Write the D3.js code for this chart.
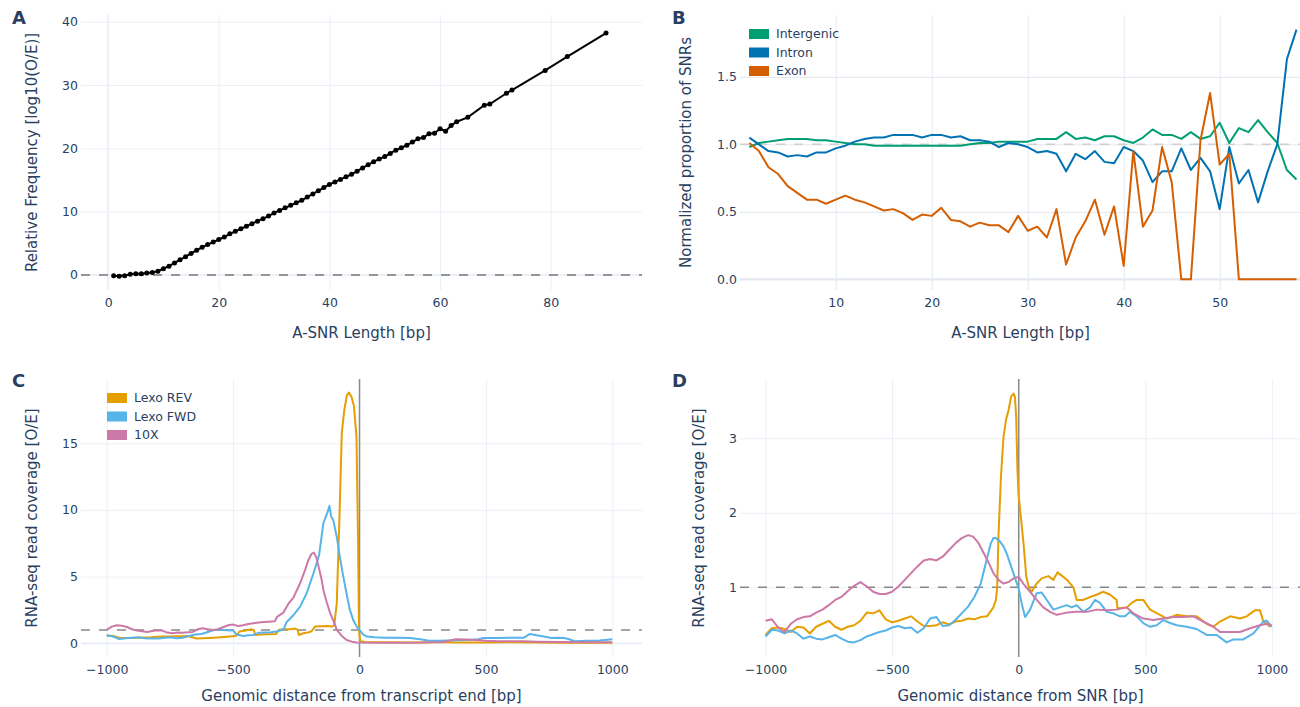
<!DOCTYPE html>
<html>
<head>
<meta charset="utf-8">
<script src="https://cdn.jsdelivr.net/npm/d3@7"></script>
<style>
  body { margin: 0; background: #fff; }
  svg text { font-family: "DejaVu Sans", Verdana, sans-serif; fill: #2a3f5f; }
</style>
</head>
<body>
<svg id="fig" width="1300" height="707"></svg>
<script>
// ---------- panel A: relative frequency by A-SNR length ----------
const aLength = [1,2,3,4,5,6,7,8,9,10,11,12,13,14,15,16,17,18,19,20,21,22,23,24,25,26,27,28,29,30,
  31,32,33,34,35,36,37,38,39,40,41,42,43,44,45,46,47,48,49,50,51,52,53,54,55,56,57,58,59,60,
  61,62,63,65,68,69,72,73,79,83,90];
const aFreq = [-0.1,-0.2,-0.1,0.1,0.2,0.2,0.3,0.4,0.6,1.0,1.4,1.9,2.4,2.9,3.4,3.9,4.4,4.8,5.2,5.6,
  6.0,6.5,6.9,7.3,7.7,8.1,8.5,8.9,9.3,9.8,10.2,10.6,11.0,11.4,11.8,12.3,12.8,13.3,13.8,14.3,
  14.7,15.1,15.5,15.9,16.4,16.9,17.4,17.9,18.3,18.7,19.2,19.7,20.1,20.5,21.0,21.5,21.7,22.3,22.4,23.1,
  22.7,23.6,24.2,24.9,26.8,27.0,28.7,29.2,32.3,34.5,38.2];
const aXTicks = [0, 20, 40, 60, 80];
const aYTicks = [0, 10, 20, 30, 40];

// ---------- panel B: normalized proportion by genomic region ----------
const bLength = [1,2,3,4,5,6,7,8,9,10,11,12,13,14,15,16,17,18,19,20,21,22,23,24,25,26,27,28,29,30,
  31,32,33,34,35,36,37,38,39,40,41,42,43,44,45,46,47,48,49,50,51,52,53,54,55,56,57,58];
const bIntergenic = [0.98,1.01,1.02,1.03,1.04,1.04,1.04,1.03,1.03,1.02,1.01,1.00,1.00,0.99,0.99,0.99,0.99,0.99,0.99,0.99,
  0.99,0.99,0.99,1.00,1.01,1.01,1.02,1.02,1.02,1.02,1.04,1.04,1.04,1.09,1.04,1.05,1.03,1.06,1.06,1.03,
  1.01,1.05,1.11,1.07,1.07,1.04,1.09,1.04,1.06,1.16,1.01,1.12,1.09,1.18,1.09,1.01,0.81,0.74];
const bIntron = [1.05,1.00,0.95,0.94,0.91,0.92,0.91,0.94,0.94,0.97,0.99,1.02,1.04,1.05,1.05,1.07,1.07,1.07,1.05,1.07,
  1.07,1.05,1.06,1.03,1.03,1.02,0.98,1.01,1.00,0.98,0.94,0.95,0.93,0.80,0.93,0.89,0.95,0.87,0.86,0.98,
  0.95,0.88,0.72,0.80,0.80,0.97,0.81,0.90,0.80,0.52,0.98,0.71,0.81,0.57,0.80,1.00,1.63,1.85];
const bExon = [1.01,0.95,0.83,0.78,0.69,0.64,0.59,0.59,0.56,0.59,0.62,0.59,0.57,0.54,0.51,0.52,0.49,0.44,0.48,0.47,
  0.53,0.44,0.43,0.39,0.42,0.40,0.40,0.35,0.47,0.36,0.39,0.31,0.52,0.11,0.31,0.43,0.59,0.33,0.54,0.10,
  0.95,0.39,0.51,0.98,0.72,0,0,1.03,1.38,0.85,0.93,0,0,0,0,0,0,0];
const bNames = ["Intergenic", "Intron", "Exon"];
const bColors = ["#009E73", "#0072B2", "#D55E00"];
const bXTicks = [10, 20, 30, 40, 50];
const bYTicks = [0, 0.5, 1, 1.5];

// ---------- panel C: coverage around transcript end [distance, O/E] ----------
const cLexoRev = [[-1000,0.58],[-975,0.55],[-950,0.42],[-925,0.40],[-900,0.40],[-875,0.42],[-850,0.44],[-825,0.45],
  [-800,0.48],[-775,0.50],[-750,0.50],[-725,0.52],[-700,0.52],[-680,0.55],[-660,0.45],[-645,0.36],[-620,0.38],
  [-600,0.40],[-575,0.42],[-550,0.45],[-525,0.48],[-500,0.52],[-485,0.60],[-475,0.88],[-450,0.95],[-430,1.05],
  [-418,1.00],[-412,0.62],[-390,0.66],[-360,0.68],[-330,0.70],[-318,1.02],[-300,1.05],[-275,1.05],[-255,1.10],
  [-245,1.02],[-240,0.62],[-222,0.75],[-200,0.82],[-189,0.92],[-176,1.25],[-150,1.28],[-130,1.30],[-110,1.25],
  [-100,1.35],[-90,3.0],[-80,9.0],[-70,15.8],[-60,17.5],[-50,18.6],[-42,18.8],[-32,18.5],[-22,17.8],[-12,15.5],
  [-6,8.0],[-2,1.0],[3,0.15],[25,0.10],[100,0.08],[200,0.06],[300,0.07],[400,0.05],[500,0.06],[600,0.07],
  [700,0.05],[800,0.04],[900,0.04],[1000,0.04]];
const cLexoFwd = [[-1000,0.60],[-975,0.50],[-950,0.32],[-925,0.38],[-900,0.42],[-875,0.45],[-850,0.38],[-825,0.36],
  [-800,0.35],[-775,0.40],[-750,0.45],[-725,0.38],[-700,0.42],[-675,0.55],[-650,0.65],[-625,0.70],[-600,0.85],
  [-575,1.00],[-550,1.02],[-525,0.98],[-500,0.95],[-485,0.65],[-460,0.55],[-440,0.60],[-420,0.62],[-400,0.78],
  [-375,0.80],[-350,0.82],[-325,0.90],[-300,1.05],[-288,1.6],[-262,2.1],[-235,2.75],[-209,3.75],[-182,5.25],
  [-160,6.6],[-150,8.0],[-143,9.0],[-135,9.4],[-127,9.8],[-119,10.3],[-112,9.5],[-104,9.25],[-90,8.0],[-78,6.5],
  [-64,5.0],[-50,3.6],[-38,2.5],[-24,1.7],[-11,1.25],[2,0.95],[15,0.65],[30,0.50],[60,0.45],[100,0.42],
  [150,0.42],[200,0.40],[240,0.30],[270,0.20],[320,0.18],[380,0.22],[430,0.25],[470,0.30],[490,0.40],[550,0.40],
  [620,0.42],[650,0.42],[675,0.70],[700,0.60],[730,0.50],[760,0.40],[790,0.42],[810,0.40],[830,0.30],[850,0.15],
  [900,0.18],[950,0.20],[1000,0.30]];
const c10x = [[-1000,1.0],[-980,1.25],[-960,1.35],[-940,1.32],[-920,1.22],[-900,1.05],[-880,0.95],[-860,0.90],
  [-840,0.85],[-820,0.92],[-800,0.98],[-780,0.95],[-760,0.80],[-740,0.75],[-720,0.80],[-700,0.78],[-680,0.82],
  [-660,0.85],[-640,1.05],[-620,1.12],[-600,1.05],[-580,1.00],[-560,1.05],[-540,1.20],[-520,1.35],[-500,1.40],
  [-480,1.30],[-460,1.35],[-440,1.45],[-420,1.50],[-400,1.55],[-380,1.60],[-360,1.62],[-335,1.65],[-325,2.0],
  [-301,2.3],[-280,3.0],[-262,3.4],[-235,4.5],[-215,5.5],[-202,6.25],[-190,6.7],[-180,6.8],[-170,6.4],
  [-162,5.75],[-150,4.8],[-143,4.0],[-130,3.1],[-116,2.25],[-100,1.55],[-90,1.0],[-70,0.55],[-51,0.25],
  [-30,0.12],[-11,0.05],[50,0.04],[150,0.04],[250,0.05],[330,0.10],[380,0.30],[420,0.28],[460,0.25],[500,0.18],
  [550,0.15],[600,0.15],[650,0.15],[700,0.12],[800,0.10],[900,0.08],[1000,0.08]];
const cdNames = ["Lexo REV", "Lexo FWD", "10X"];
const cdColors = ["#E69F00", "#56B4E9", "#CC79A7"];
const cXTicks = [-1000, -500, 0, 500, 1000];
const cYTicks = [0, 5, 10, 15];

// ---------- panel D: coverage around SNR [distance, O/E] ----------
const dLexoRev = [[-1000,0.36],[-975,0.45],[-950,0.46],[-925,0.44],[-900,0.40],[-875,0.47],[-850,0.46],[-825,0.38],
  [-800,0.47],[-775,0.51],[-750,0.55],[-725,0.47],[-700,0.43],[-675,0.47],[-650,0.49],[-625,0.55],[-600,0.66],
  [-575,0.65],[-550,0.69],[-525,0.57],[-500,0.53],[-475,0.55],[-450,0.58],[-425,0.61],[-400,0.54],[-375,0.48],
  [-350,0.48],[-325,0.49],[-300,0.53],[-275,0.50],[-250,0.54],[-225,0.55],[-200,0.58],[-175,0.57],[-150,0.60],
  [-125,0.61],[-100,0.73],[-90,0.83],[-85,1.0],[-80,1.68],[-70,2.49],[-60,3.02],[-50,3.25],[-40,3.38],[-30,3.56],
  [-20,3.6],[-15,3.56],[-10,3.29],[-5,2.57],[0,2.22],[10,1.9],[20,1.55],[30,1.14],[40,1.0],[51,0.94],[71,1.05],
  [91,1.12],[117,1.15],[137,1.10],[153,1.20],[176,1.14],[196,1.08],[216,1.0],[229,0.83],[255,0.83],[282,0.87],
  [308,0.90],[334,0.94],[361,0.90],[387,0.83],[390,0.72],[427,0.73],[446,0.79],[466,0.83],[492,0.83],[519,0.70],
  [558,0.63],[585,0.58],[624,0.63],[664,0.61],[703,0.61],[742,0.51],[769,0.47],[795,0.54],[835,0.61],[874,0.58],
  [900,0.61],[933,0.69],[953,0.69],[966,0.54],[993,0.47]];
const dLexoFwd = [[-1000,0.34],[-975,0.43],[-950,0.42],[-925,0.38],[-900,0.42],[-875,0.38],[-850,0.31],[-825,0.34],
  [-800,0.31],[-775,0.30],[-750,0.33],[-725,0.36],[-700,0.31],[-675,0.27],[-650,0.26],[-625,0.29],[-600,0.34],
  [-575,0.37],[-550,0.40],[-525,0.42],[-500,0.46],[-475,0.48],[-450,0.45],[-425,0.46],[-400,0.39],[-375,0.45],
  [-350,0.58],[-325,0.60],[-300,0.48],[-275,0.49],[-250,0.56],[-225,0.65],[-200,0.74],[-175,0.87],[-150,1.05],
  [-125,1.39],[-110,1.59],[-100,1.66],[-90,1.66],[-75,1.62],[-60,1.55],[-47,1.45],[-34,1.32],[-21,1.19],
  [-10,1.08],[0,0.98],[12,0.78],[25,0.60],[45,0.70],[71,0.92],[91,0.93],[111,0.83],[137,0.70],[163,0.73],
  [190,0.76],[209,0.73],[229,0.76],[255,0.67],[282,0.73],[301,0.83],[321,0.79],[348,0.67],[374,0.65],[400,0.61],
  [420,0.61],[440,0.67],[466,0.61],[492,0.52],[519,0.47],[545,0.49],[571,0.56],[598,0.52],[624,0.49],[664,0.47],
  [703,0.44],[742,0.36],[782,0.36],[821,0.26],[848,0.30],[887,0.30],[927,0.38],[966,0.54],[980,0.55],[999,0.47]];
const d10x = [[-1000,0.55],[-975,0.57],[-950,0.46],[-925,0.40],[-900,0.51],[-875,0.57],[-850,0.60],[-825,0.61],
  [-800,0.66],[-775,0.70],[-750,0.76],[-725,0.83],[-700,0.87],[-675,0.95],[-650,1.02],[-625,1.07],[-600,1.01],
  [-575,0.94],[-550,0.91],[-525,0.91],[-500,0.94],[-475,1.01],[-450,1.10],[-425,1.19],[-400,1.28],[-375,1.36],
  [-350,1.38],[-325,1.36],[-300,1.41],[-275,1.50],[-250,1.59],[-225,1.66],[-200,1.70],[-180,1.68],[-160,1.60],
  [-140,1.47],[-120,1.34],[-100,1.19],[-80,1.10],[-60,1.05],[-40,1.07],[-20,1.12],[0,1.14],[18,1.05],[45,0.94],
  [71,0.83],[97,0.73],[124,0.67],[150,0.63],[190,0.66],[229,0.67],[269,0.67],[308,0.70],[348,0.69],[387,0.70],
  [427,0.73],[453,0.65],[492,0.58],[532,0.56],[571,0.58],[611,0.60],[650,0.60],[690,0.61],[729,0.54],[769,0.47],
  [795,0.40],[835,0.40],[874,0.40],[914,0.45],[953,0.49],[980,0.51],[999,0.49]];
const dXTicks = [-1000, -500, 0, 500, 1000];
const dYTicks = [1, 2, 3];

const svg = d3.select("#fig");
svg.append("rect").attr("width", 1300).attr("height", 707).attr("fill", "#fff");

let clipId = 0;

// one subplot: gridlines, tick labels, titles; returns group + scales
function panel(cfg) {
  const w = cfg.width, h = cfg.height;
  const g = svg.append("g").attr("transform", `translate(${cfg.left},${cfg.top})`);
  const x = d3.scaleLinear().domain(cfg.xDomain).range([0, w]);
  const y = d3.scaleLinear().domain(cfg.yDomain).range([h, 0]);
  const grid = cfg.gridColor || "#EBF0F8";

  const xAxis = g.append("g").attr("transform", `translate(0,${h})`)
    .call(d3.axisBottom(x).tickValues(cfg.xTicks).tickSize(h).tickPadding(8 - h)
      .tickFormat(cfg.xFormat || d3.format("d")));
  const yAxis = g.append("g")
    .call(d3.axisLeft(y).tickValues(cfg.yTicks).tickSize(-w).tickPadding(3)
      .tickFormat(cfg.yFormat || d3.format("d")));
  [xAxis, yAxis].forEach(a => {
    a.select(".domain").remove();
    a.selectAll(".tick line").attr("stroke", grid).attr("stroke-width", 1);
    a.selectAll(".tick text").attr("font-size", 12.5).style("fill", "#2a3f5f");
  });
  xAxis.selectAll(".tick line").attr("y1", 0).attr("y2", -h);
  xAxis.selectAll(".tick text").attr("y", 8);

  // zero lines like plotly
  if (cfg.yDomain[0] < 0 && cfg.yDomain[1] > 0) {
    g.append("line").attr("x1", 0).attr("x2", w).attr("y1", y(0)).attr("y2", y(0))
      .attr("stroke", grid).attr("stroke-width", 2);
  }
  if (cfg.xDomain[0] < 0 && cfg.xDomain[1] > 0 && cfg.xZero) {
    g.append("line").attr("x1", x(0)).attr("x2", x(0)).attr("y1", 0).attr("y2", h)
      .attr("stroke", grid).attr("stroke-width", 2);
  }

  // axis titles
  svg.append("text").attr("x", cfg.left + w / 2).attr("y", cfg.top + h + cfg.xTitleOffset)
    .attr("text-anchor", "middle").attr("font-size", 15).text(cfg.xTitle);
  svg.append("text")
    .attr("transform", `translate(${cfg.yTitleX},${cfg.top + h / 2}) rotate(-90)`)
    .attr("text-anchor", "middle").attr("dy", "0.35em").attr("font-size", 15).text(cfg.yTitle);

  // panel letter
  svg.append("text").attr("x", cfg.letterX).attr("y", cfg.top + cfg.letterDy)
    .attr("font-size", 18).attr("font-weight", "bold").text(cfg.letter);

  const id = "clip" + (clipId++);
  svg.append("clipPath").attr("id", id).append("rect")
    .attr("x", cfg.left).attr("y", cfg.top).attr("width", w).attr("height", h);
  const plot = svg.append("g").attr("clip-path", `url(#${id})`)
    .append("g").attr("transform", `translate(${cfg.left},${cfg.top})`);
  return { g: plot, x, y, w, h };
}

function hline(p, v, color, dash) {
  p.g.append("line").attr("x1", 0).attr("x2", p.w).attr("y1", p.y(v)).attr("y2", p.y(v))
    .attr("stroke", color).attr("stroke-width", 1.5).attr("stroke-dasharray", dash);
}
function vline(p, v, color) {
  p.g.append("line").attr("x1", p.x(v)).attr("x2", p.x(v)).attr("y1", 0).attr("y2", p.h)
    .attr("stroke", color).attr("stroke-width", 1.5);
}
function legend(x0, y0, names, colors) {
  const lg = svg.append("g").attr("transform", `translate(${x0},${y0})`);
  names.forEach((n, i) => {
    const row = lg.append("g").attr("transform", `translate(0,${i * 18.5})`);
    row.append("rect").attr("x", 0).attr("y", -5).attr("width", 20).attr("height", 10).attr("fill", colors[i]);
    row.append("text").attr("x", 27).attr("dy", "0.35em").attr("font-size", 12.5).text(n);
  });
}

const LEFT = 81, RIGHT = 740, PW = 561;

// ----- A -----
const pA = panel({
  left: LEFT, top: 15, width: PW, height: 275,
  xDomain: [-4.9, 96.5], yDomain: [-2.37, 41.06], xTicks: aXTicks, yTicks: aYTicks, xZero: true,
  xTitle: "A-SNR Length [bp]", yTitle: "Relative Frequency [log10(O/E)]",
  xTitleOffset: 48, yTitleX: 32, letter: "A", letterX: 12, letterDy: 9
});
hline(pA, 0, "#777", "9,9");
const aPts = aLength.map((d, i) => [d, aFreq[i]]);
pA.g.append("path").datum(aPts)
  .attr("fill", "none").attr("stroke", "#000").attr("stroke-width", 2)
  .attr("d", d3.line().x(d => pA.x(d[0])).y(d => pA.y(d[1])));
pA.g.selectAll("circle").data(aPts).enter().append("circle")
  .attr("cx", d => pA.x(d[0])).attr("cy", d => pA.y(d[1])).attr("r", 2.5).attr("fill", "#000");

// ----- B -----
const pB = panel({
  left: RIGHT, top: 15, width: PW, height: 275, gridColor: "#E3E7EE",
  xDomain: [0.03, 58.47], yDomain: [-0.079, 1.958], xTicks: bXTicks, yTicks: bYTicks,
  yFormat: d3.format(".1f"),
  xTitle: "A-SNR Length [bp]", yTitle: "Normalized proportion of SNRs",
  xTitleOffset: 48, yTitleX: 686, letter: "B", letterX: 672, letterDy: 9
});
hline(pB, 1, "#cfcfcf", "9,9");
[bIntergenic, bIntron, bExon].forEach((vals, i) => {
  pB.g.append("path").datum(bLength.map((d, j) => [d, vals[j]]))
    .attr("fill", "none").attr("stroke", bColors[i]).attr("stroke-width", 2)
    .attr("stroke-linejoin", "round")
    .attr("d", d3.line().x(d => pB.x(d[0])).y(d => pB.y(d[1])));
});
legend(749, 34, bNames, bColors);

// ----- C -----
const pC = panel({
  left: LEFT, top: 379, width: PW, height: 278,
  xDomain: [-1101.7, 1117.5], yDomain: [-1.03, 19.82], xTicks: cXTicks, yTicks: cYTicks,
  xTitle: "Genomic distance from transcript end [bp]", yTitle: "RNA-seq read coverage [O/E]",
  xTitleOffset: 44, yTitleX: 32, letter: "C", letterX: 12, letterDy: 8
});
hline(pC, 1, "#888", "9,9");
vline(pC, 0, "#8c8c8c");
[cLexoRev, cLexoFwd, c10x].forEach((pts, i) => {
  pC.g.append("path").datum(pts)
    .attr("fill", "none").attr("stroke", cdColors[i]).attr("stroke-width", 2)
    .attr("stroke-linejoin", "round")
    .attr("d", d3.line().x(d => pC.x(d[0])).y(d => pC.y(d[1])));
});
legend(107, 398, cdNames, cdColors);

// ----- D -----
const pD = panel({
  left: RIGHT, top: 379, width: PW, height: 278,
  xDomain: [-1100.7, 1114.9], yDomain: [0.064, 3.796], xTicks: dXTicks, yTicks: dYTicks,
  xTitle: "Genomic distance from SNR [bp]", yTitle: "RNA-seq read coverage [O/E]",
  xTitleOffset: 44, yTitleX: 699, letter: "D", letterX: 672, letterDy: 8
});
hline(pD, 1, "#888", "9,9");
vline(pD, 0, "#8c8c8c");
[dLexoRev, dLexoFwd, d10x].forEach((pts, i) => {
  pD.g.append("path").datum(pts)
    .attr("fill", "none").attr("stroke", cdColors[i]).attr("stroke-width", 2)
    .attr("stroke-linejoin", "round")
    .attr("d", d3.line().x(d => pD.x(d[0])).y(d => pD.y(d[1])));
});
</script>
</body>
</html>
